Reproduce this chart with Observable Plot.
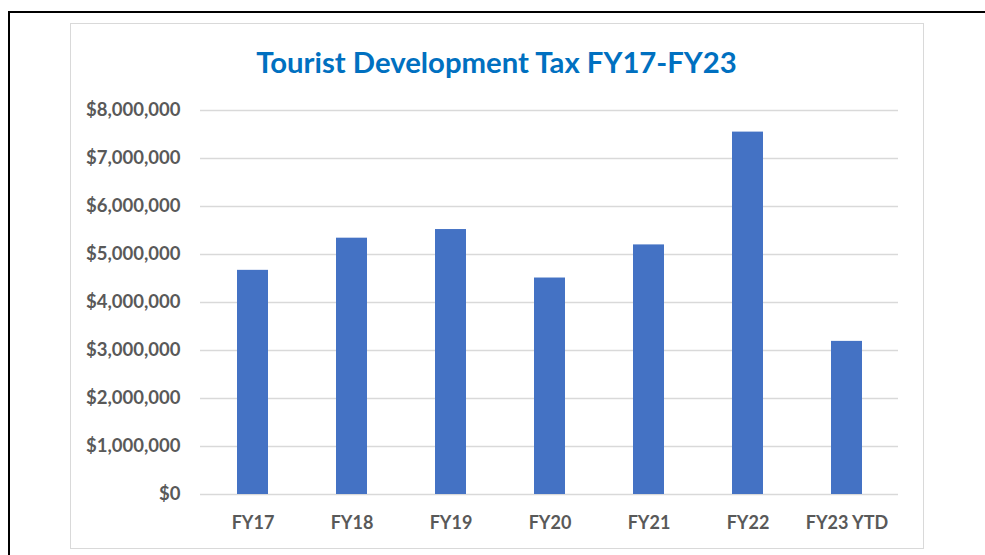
<!DOCTYPE html>
<html><head><meta charset="utf-8">
<script src="https://cdn.jsdelivr.net/npm/d3@7"></script>
<script src="https://cdn.jsdelivr.net/npm/@observablehq/plot@0.6"></script>
<style>
html,body{margin:0;padding:0;background:#fff;}
#wrap{position:relative;width:985px;height:555px;overflow:hidden;}
#outer{position:absolute;left:8px;top:11px;width:1100px;height:700px;border:2px solid #000;box-sizing:border-box;}
#inner{position:absolute;left:70px;top:23px;width:854px;height:526px;border:1.5px solid #d9d9d9;box-sizing:border-box;}
#chart{position:absolute;left:0;top:0;}
#title{position:absolute;left:0;top:0;}
</style></head>
<body><div id="wrap"><div id="outer"></div><div id="inner"></div><div id="chart"></div><svg id="title" width="985" height="100"></svg></div>
<script>
const categories = ["FY17","FY18","FY19","FY20","FY21","FY22","FY23 YTD"];
const values = [4670000, 5340000, 5520000, 4510000, 5200000, 7550000, 3190000];
const yTicks = [0,1000000,2000000,3000000,4000000,5000000,6000000,7000000,8000000];
const titleText = "Tourist Development Tax FY17-FY23";

const data = categories.map((c,i)=>({cat:c, value:values[i]}));
const fmt = d => "$" + d3.format(",")(d);
const font = "Lato, 'Open Sans', sans-serif";

const chart = Plot.plot({
  width: 985, height: 555,
  marginLeft: 200, marginRight: 87, marginTop: 110, marginBottom: 61,
  style: {background: "transparent", fontFamily: font, fontSize: "18px", fontWeight: "bold", color: "#595959", overflow: "visible"},
  x: {domain: categories, paddingInner: 0.69, paddingOuter: 0.345, label: null},
  y: {domain: [0, 8000000], label: null},
  marks: [
    Plot.gridY(yTicks, {stroke: "#d9d9d9", strokeOpacity: 1, strokeWidth: 1.5}),
    Plot.barY(data, {x: "cat", y: "value", fill: "#4472c4"}),
    Plot.axisY(yTicks, {tickSize: 0, tickPadding: 20, tickFormat: fmt, fill: "#595959", fontWeight: "bold", fontSize: 18.5}),
    Plot.axisX({tickSize: 0, tickPadding: 22, fill: "#595959", fontWeight: "bold", fontSize: 18})
  ]
});
document.getElementById("chart").appendChild(chart);

const tsvg = d3.select("#title");
const t = tsvg.append("text").attr("x", 496.5).attr("y", 73).attr("text-anchor","middle")
  .attr("fill","#0070c0").attr("font-family", font).attr("font-weight","bold").attr("font-size", 28).text(titleText);
const len = t.node().getComputedTextLength();
if (len > 0) t.attr("font-size", 28 * 481 / len);
</script></body></html>
